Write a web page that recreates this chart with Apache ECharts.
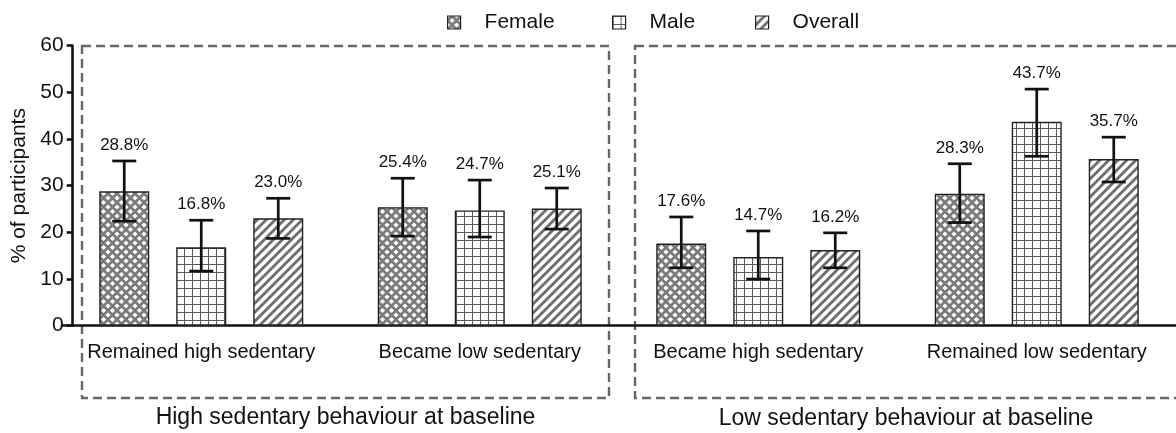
<!DOCTYPE html>
<html>
<head>
<meta charset="utf-8">
<script src="https://cdn.jsdelivr.net/npm/echarts@6/dist/echarts.min.js"></script>
<style>
html,body{margin:0;padding:0;background:#fff;}
#chart{width:1176px;height:433px;}
</style>
</head>
<body>
<div id="chart"></div>
<script>
// ---- data ----
var categories = ['Remained high sedentary', 'Became low sedentary', 'Became high sedentary', 'Remained low sedentary'];
var seriesNames = ['Female', 'Male', 'Overall'];
var female = [28.8, 25.4, 17.6, 28.3];
var male = [16.8, 24.7, 14.7, 43.7];
var overall = [23.0, 25.1, 16.2, 35.7];
var femaleLow = [22.4, 19.2, 12.4, 22.1];
var femaleHigh = [35.3, 31.6, 23.3, 34.7];
var maleLow = [11.7, 19.0, 10.0, 36.3];
var maleHigh = [22.6, 31.2, 20.3, 50.7];
var overallLow = [18.7, 20.7, 12.4, 30.8];
var overallHigh = [27.3, 29.5, 19.9, 40.4];
var yTicks = [0, 10, 20, 30, 40, 50, 60];
var groupTitles = ['High sedentary behaviour at baseline', 'Low sedentary behaviour at baseline'];

// ---- patterns ----
function makeCanvas(s) { var c = document.createElement('canvas'); c.width = s; c.height = s; return c; }
function femalePattern() {
  var s = 9, c = makeCanvas(s), g = c.getContext('2d');
  g.fillStyle = '#7a7a7a'; g.fillRect(0, 0, s, s);
  g.fillStyle = '#ffffff';
  var r = 2.6;
  [[4.5, 4.5], [0, 0], [9, 0], [0, 9], [9, 9]].forEach(function (p) {
    g.beginPath(); g.moveTo(p[0], p[1] - r); g.lineTo(p[0] + r, p[1]); g.lineTo(p[0], p[1] + r); g.lineTo(p[0] - r, p[1]); g.closePath(); g.fill();
  });
  return { image: c, repeat: 'repeat' };
}
function malePattern() {
  var s = 8, c = makeCanvas(s), g = c.getContext('2d');
  g.fillStyle = '#ffffff'; g.fillRect(0, 0, s, s);
  g.fillStyle = '#5a5a5a';
  g.fillRect(0, 0, s, 1); g.fillRect(0, 0, 1, s);
  return { image: c, repeat: 'repeat' };
}
function overallPattern() {
  var s = 9, c = makeCanvas(s), g = c.getContext('2d');
  g.fillStyle = '#ffffff'; g.fillRect(0, 0, s, s);
  g.strokeStyle = '#6e6e6e'; g.lineWidth = 2.8;
  [-s, 0, s].forEach(function (o) {
    g.beginPath(); g.moveTo(o - 1, s + 1); g.lineTo(o + s + 1, -1); g.stroke();
  });
  return { image: c, repeat: 'repeat' };
}
var patterns = [femalePattern(), malePattern(), overallPattern()];
var values = [female, male, overall];
var lows = [femaleLow, maleLow, overallLow];
var highs = [femaleHigh, maleHigh, overallHigh];

var FONT = "'Liberation Sans', Arial, sans-serif";
var BAR_W = 50, BAR_GAP = 0.54;
var STEP = BAR_W * (1 + BAR_GAP);

var chart = echarts.init(document.getElementById('chart'), null, { renderer: 'canvas' });

var series = [];
seriesNames.forEach(function (name, i) {
  series.push({
    name: name,
    type: 'bar',
    data: values[i],
    barWidth: BAR_W,
    barGap: (BAR_GAP * 100) + '%',
    itemStyle: { color: patterns[i], borderColor: '#222', borderWidth: 1.4 },
    emphasis: { disabled: true },
    z: 2
  });
});
seriesNames.forEach(function (name, i) {
  var offset = (i - 1) * STEP;
  series.push({
    name: name + ' CI',
    type: 'custom',
    data: categories.map(function (c, k) { return [k, lows[i][k], highs[i][k], values[i][k]]; }),
    encode: { x: 0, y: [1, 2] },
    z: 5,
    silent: true,
    renderItem: function (params, api) {
      var k = api.value(0);
      var lo = api.coord([k, api.value(1)]);
      var hi = api.coord([k, api.value(2)]);
      var x = lo[0] + offset;
      var cap = 12;
      var st = { stroke: '#111', lineWidth: 2.7 };
      return {
        type: 'group',
        children: [
          { type: 'line', shape: { x1: x, y1: hi[1], x2: x, y2: lo[1] }, style: st },
          { type: 'line', shape: { x1: x - cap, y1: hi[1], x2: x + cap, y2: hi[1] }, style: st },
          { type: 'line', shape: { x1: x - cap, y1: lo[1], x2: x + cap, y2: lo[1] }, style: st },
          { type: 'text', x: x, y: hi[1] - 7, style: { text: api.value(3).toFixed(1) + '%', fill: '#111', fontSize: 17, fontFamily: FONT, align: 'center', verticalAlign: 'bottom' } }
        ]
      };
    }
  });
});

var legendLefts = [442, 607, 750];
var legends = seriesNames.map(function (n, i) {
  return {
    data: [n], left: legendLefts[i], top: 7, orient: 'horizontal',
    itemWidth: 13, itemHeight: 13, icon: 'rect',
    itemStyle: { borderColor: '#222', borderWidth: 1.2 },
    textStyle: { fontFamily: FONT, fontSize: 21, color: '#111', padding: [0, 0, 0, 19] },
    selectedMode: false
  };
});

var option = {
  backgroundColor: '#ffffff',
  animation: false,
  textStyle: { fontFamily: FONT },
  legend: legends,
  grid: { left: 62, right: -18, top: 45.7, bottom: 107.3, containLabel: false },
  xAxis: {
    type: 'category',
    data: categories,
    axisLine: { lineStyle: { color: '#111', width: 2.6 } },
    axisTick: { alignWithLabel: true, length: 6, lineStyle: { color: '#111', width: 2.6 } },
    axisLabel: { fontFamily: FONT, fontSize: 20, color: '#111', margin: 17, interval: 0 },
    splitLine: { show: false }
  },
  yAxis: {
    type: 'value', min: 0, max: 60, interval: 10,
    offset: -10.7,
    name: '% of participants', nameLocation: 'middle', nameGap: 34,
    nameTextStyle: { fontFamily: FONT, fontSize: 21, color: '#111' },
    axisLine: { show: true, lineStyle: { color: '#111', width: 2.6 } },
    axisTick: { show: true, length: 6, lineStyle: { color: '#111', width: 2.6 } },
    axisLabel: { fontFamily: FONT, fontSize: 21, color: '#111', margin: 9,
      formatter: function (v) { return yTicks.indexOf(v) >= 0 ? String(v) : ''; } },
    splitLine: { show: false }
  },
  graphic: [
    { type: 'rect', shape: { x: 82, y: 46, width: 527, height: 352 }, style: { fill: 'none', stroke: '#666', lineWidth: 2.4, lineDash: [9, 5] }, z: 0 },
    { type: 'rect', shape: { x: 635, y: 46, width: 560, height: 352 }, style: { fill: 'none', stroke: '#666', lineWidth: 2.4, lineDash: [9, 5] }, z: 0 },
    { type: 'text', x: 345.5, y: 418, style: { text: groupTitles[0], fontSize: 23, fontFamily: FONT, fill: '#111', align: 'center', verticalAlign: 'middle' } },
    { type: 'text', x: 906, y: 419, style: { text: groupTitles[1], fontSize: 23, fontFamily: FONT, fill: '#111', align: 'center', verticalAlign: 'middle' } }
  ],
  series: series
};
chart.setOption(option);
</script>
</body>
</html>
